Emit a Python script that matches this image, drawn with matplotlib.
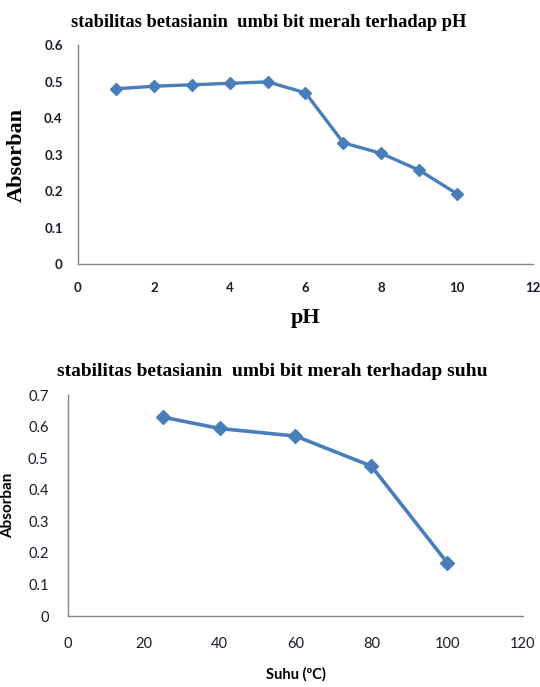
import matplotlib
matplotlib.use('Agg')
import matplotlib.pyplot as plt

# data
ph = [1, 2, 3, 4, 5, 6, 7, 8, 9, 10]
abs_ph = [0.480, 0.487, 0.491, 0.495, 0.499, 0.469, 0.332, 0.303, 0.257, 0.192]

suhu = [25, 40, 60, 80, 100]
abs_suhu = [0.630, 0.594, 0.570, 0.475, 0.169]

ph_ticks = [0, 2, 4, 6, 8, 10, 12]
ph_yticks = [0, 0.1, 0.2, 0.3, 0.4, 0.5, 0.6]
suhu_ticks = [0, 20, 40, 60, 80, 100, 120]
suhu_yticks = [0, 0.1, 0.2, 0.3, 0.4, 0.5, 0.6, 0.7]

LINE = '#4a7ebb'
AXIS = '#868686'
TXT = '#1a1a2a'


def style_axes(ax):
	for s in ['top', 'right']:
		ax.spines[s].set_visible(False)
	for s in ['left', 'bottom']:
		ax.spines[s].set_color(AXIS)
		ax.spines[s].set_linewidth(1.0)


def main():
	fig = plt.figure(figsize=(5.4, 6.87), dpi=100)

	# top chart: pH
	ax1 = fig.add_axes([0.1444, 0.6157, 0.8426, 0.3188])
	ax1.plot(ph, abs_ph, color=LINE, lw=2.4, marker='D', ms=6.5, mec=LINE, mfc=LINE)
	ax1.set_xlim(0, 12)
	ax1.set_ylim(0, 0.6)
	ax1.set_xticks(ph_ticks)
	ax1.set_yticks(ph_yticks)
	ax1.set_xticklabels([str(t) for t in ph_ticks])
	ax1.set_yticklabels(['0'] + ['%.1f' % t for t in ph_yticks[1:]])
	ax1.tick_params(length=0, labelsize=9.5, labelcolor=TXT)
	ax1.tick_params(axis='y', pad=11)
	ax1.tick_params(axis='x', pad=13)
	for lab in ax1.get_xticklabels() + ax1.get_yticklabels():
		lab.set_family('Lato')
		lab.set_weight('bold')
	style_axes(ax1)
	ax1.set_title('stabilitas betasianin  umbi bit merah terhadap pH',
		family='Liberation Serif', weight='bold', fontsize=13.3, pad=13, x=0.42)
	ax1.set_ylabel('Absorban', family='Liberation Serif', weight='bold', fontsize=16)
	ax1.yaxis.set_label_coords(-0.112, 0.5)
	ax1.set_xlabel('pH', family='Liberation Serif', weight='bold', fontsize=16)
	ax1.xaxis.set_label_coords(0.5, -0.2)

	# bottom chart: suhu
	ax2 = fig.add_axes([0.1259, 0.1033, 0.8426, 0.3217])
	ax2.plot(suhu, abs_suhu, color=LINE, lw=2.6, marker='D', ms=7, mec=LINE, mfc=LINE)
	ax2.set_xlim(0, 120)
	ax2.set_ylim(0, 0.7)
	ax2.set_xticks(suhu_ticks)
	ax2.set_yticks(suhu_yticks)
	ax2.set_xticklabels([str(t) for t in suhu_ticks])
	ax2.set_yticklabels(['0'] + ['%.1f' % t for t in suhu_yticks[1:]])
	ax2.tick_params(length=0, labelsize=10.5, labelcolor=TXT)
	ax2.tick_params(axis='y', pad=14)
	ax2.tick_params(axis='x', pad=15)
	for lab in ax2.get_xticklabels() + ax2.get_yticklabels():
		lab.set_family('Lato')
	style_axes(ax2)
	ax2.set_title('stabilitas betasianin  umbi bit merah terhadap suhu',
		family='Liberation Serif', weight='bold', fontsize=14, pad=14, x=0.45)
	ax2.set_ylabel('Absorban', family='Lato', weight='bold', fontsize=11)
	ax2.yaxis.set_label_coords(-0.116, 0.5)
	ax2.set_xlabel('Suhu (\u00baC)', family='Lato', weight='bold', fontsize=10.5)
	ax2.xaxis.set_label_coords(0.5, -0.23)

	fig.savefig('out.png', dpi=100, facecolor='white')


if __name__ == '__main__':
	main()
